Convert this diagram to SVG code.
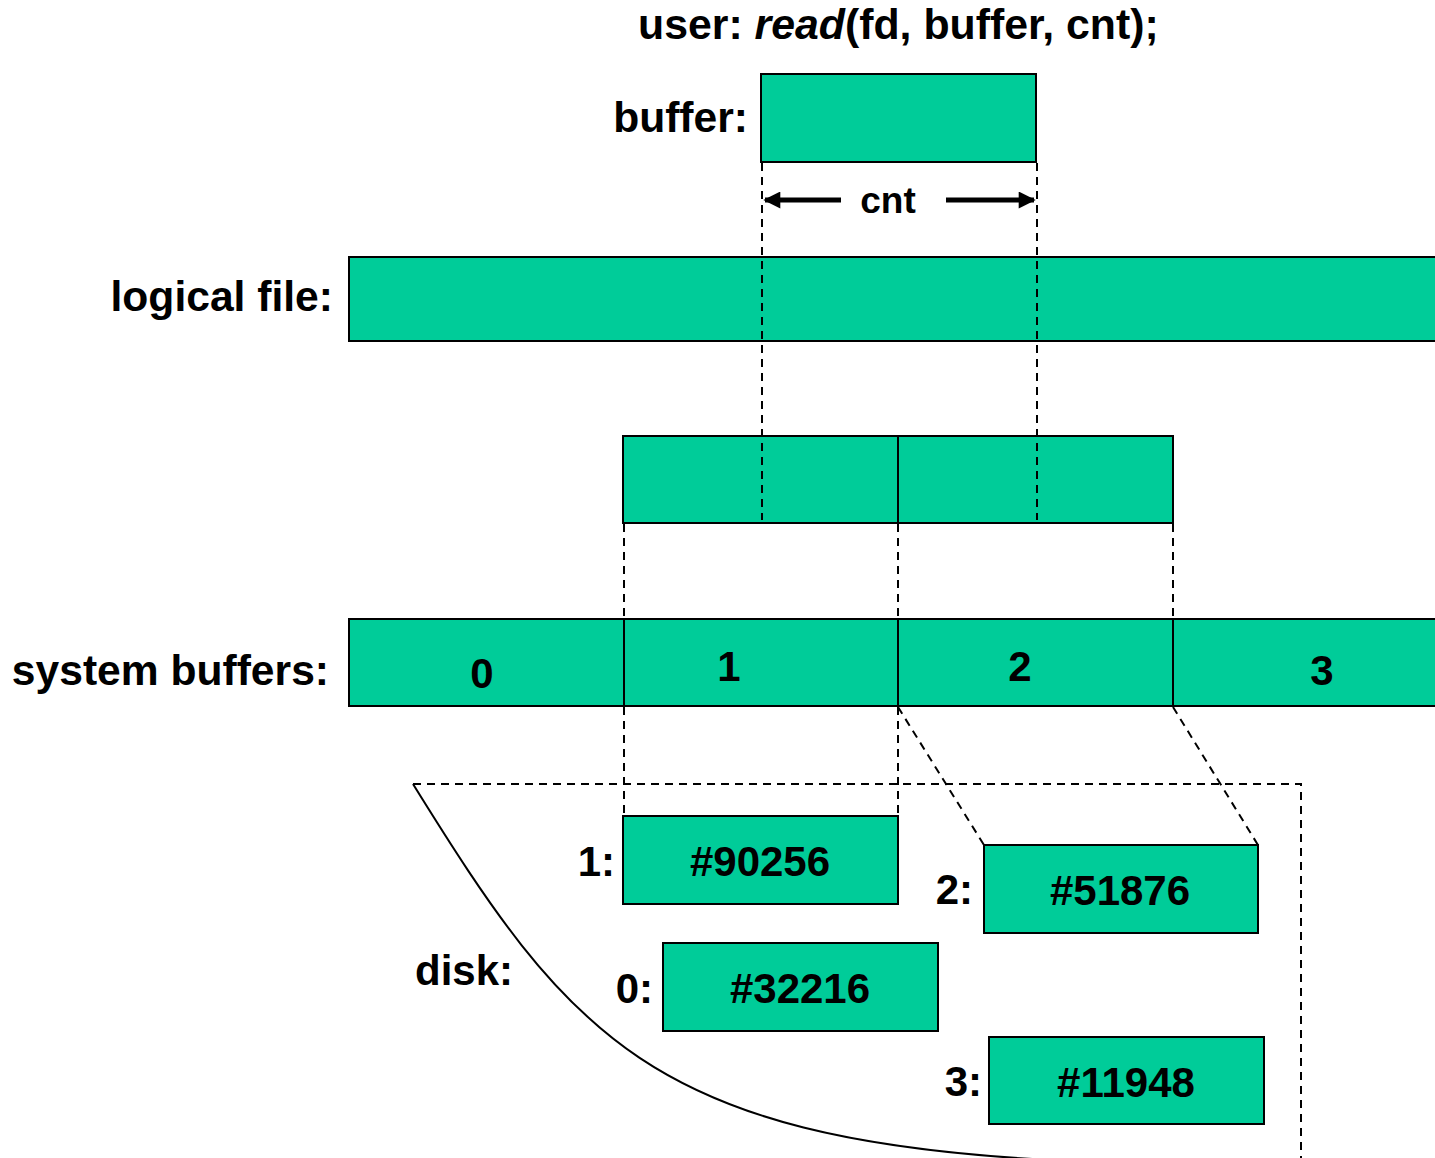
<svg xmlns="http://www.w3.org/2000/svg" width="1435" height="1158" viewBox="0 0 1435 1158">
  <defs>
    <style>
      .box { fill: #00CC99; stroke: #000; stroke-width: 2; }
      .lbl { font-family: "Liberation Sans", Arial, sans-serif; font-weight: bold; font-size: 42px; fill: #000; }
      .big { font-size: 42.6px; }
      .ttl { font-size: 42.8px; }
      .small { font-size: 37px; }
      .mid { text-anchor: middle; }
      .end { text-anchor: end; }
      .dash { fill: none; stroke: #000; stroke-width: 2; stroke-dasharray: 8 6; }
      .arrow { fill: none; stroke: #000; stroke-width: 5; marker-end: url(#head); }
    </style>
    <marker id="head" viewBox="0 0 10 10" refX="9" refY="5" markerWidth="4.2" markerHeight="3.4" orient="auto" markerUnits="strokeWidth">
      <path d="M0,0 L10,5 L0,10 Z" fill="#000"/>
    </marker>
  </defs>

  <rect width="1435" height="1158" fill="#fff"/>

  <!-- call line -->
  <text id="title" class="lbl ttl" x="638" y="39">user: <tspan font-style="italic">read</tspan>(fd, buffer, cnt);</text>

  <!-- user buffer -->
  <g id="buffer">
    <rect class="box" x="761" y="74" width="275" height="88"/>
    <text class="lbl big end" x="748" y="132">buffer:</text>
  </g>

  <!-- logical file -->
  <g id="logical-file">
    <rect class="box" x="349" y="257" width="1100" height="84"/>
    <text class="lbl big end" x="333" y="311">logical file:</text>
  </g>

  <!-- pair of blocks touched by the read -->
  <g id="blocks">
    <rect class="box" x="623" y="436" width="275" height="87"/>
    <rect class="box" x="898" y="436" width="275" height="87"/>
  </g>

  <!-- system buffers -->
  <g id="system-buffers">
    <text class="lbl big end" x="329" y="685">system buffers:</text>
    <g id="sb0">
      <rect class="box" x="349" y="619" width="275" height="87"/>
      <text class="lbl mid" x="482" y="688">0</text>
    </g>
    <g id="sb1">
      <rect class="box" x="624" y="619" width="274" height="87"/>
      <text class="lbl mid" x="729" y="681">1</text>
    </g>
    <g id="sb2">
      <rect class="box" x="898" y="619" width="275" height="87"/>
      <text class="lbl mid" x="1020" y="681">2</text>
    </g>
    <g id="sb3">
      <rect class="box" x="1173" y="619" width="275" height="87"/>
      <text class="lbl mid" x="1322" y="685">3</text>
    </g>
  </g>

  <!-- disk -->
  <g id="disk">
    <path d="M413,784 C568,1034 650,1139 1050,1160" fill="none" stroke="#000" stroke-width="2"/>
    <text class="lbl" x="415" y="985">disk:</text>
  </g>

  <g id="disk1">
    <rect class="box" x="623" y="816" width="275" height="88"/>
    <text class="lbl end" x="615" y="876">1:</text>
    <text class="lbl mid" x="760" y="876">#90256</text>
  </g>
  <g id="disk2">
    <rect class="box" x="984" y="845" width="274" height="88"/>
    <text class="lbl end" x="973" y="904">2:</text>
    <text class="lbl mid" x="1120" y="905">#51876</text>
  </g>
  <g id="disk0">
    <rect class="box" x="663" y="943" width="275" height="88"/>
    <text class="lbl end" x="653" y="1003">0:</text>
    <text class="lbl mid" x="800" y="1003">#32216</text>
  </g>
  <g id="disk3">
    <rect class="box" x="989" y="1037" width="275" height="87"/>
    <text class="lbl end" x="982" y="1096">3:</text>
    <text class="lbl mid" x="1126" y="1097">#11948</text>
  </g>

  <!-- connectors -->
  <g id="connectors">
    <!-- extent of cnt projected down through the file -->
    <line class="dash" x1="762" y1="163" x2="762" y2="520"/>
    <line class="dash" x1="1037" y1="163" x2="1037" y2="520"/>
    <!-- blocks to system buffers -->
    <line class="dash" x1="624" y1="524" x2="624" y2="619"/>
    <line class="dash" x1="898" y1="524" x2="898" y2="619"/>
    <line class="dash" x1="1173" y1="524" x2="1173" y2="619"/>
    <!-- system buffers to disk blocks -->
    <line class="dash" x1="624" y1="707" x2="624" y2="816"/>
    <line class="dash" x1="898" y1="707" x2="898" y2="816"/>
    <line class="dash" x1="898" y1="707" x2="984" y2="845"/>
    <line class="dash" x1="1173" y1="707" x2="1258" y2="845"/>
    <!-- disk outline -->
    <polyline class="dash" points="413,784 1301,784 1301,1160"/>
    <!-- cnt span -->
    <line class="arrow" x1="841" y1="200" x2="765" y2="200"/>
    <line class="arrow" x1="946" y1="200" x2="1034" y2="200"/>
    <text class="lbl small mid" x="888" y="213">cnt</text>
  </g>
</svg>
